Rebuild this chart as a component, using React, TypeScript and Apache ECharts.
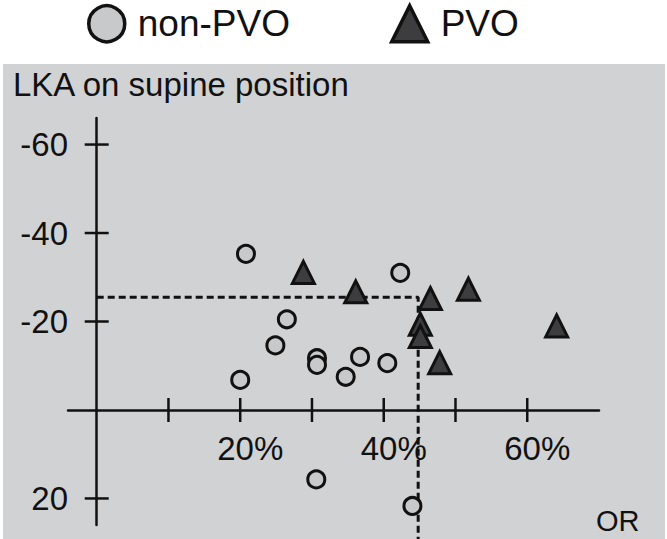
import React, { useEffect, useRef } from 'react';
import * as echarts from 'echarts';

// OR (%) and LKA on supine position (degrees)
const nonPvoOR = [20.8, 42.3, 26.5, 24.9, 30.7, 30.7, 36.7, 40.5, 34.7, 20.0, 30.6, 44.0];
const nonPvoLKA = [-35.3, -31.0, -20.5, -14.6, -11.7, -10.2, -12.0, -10.6, -7.5, -6.8, 15.7, 21.7];
const pvoOR = [28.8, 36.1, 46.5, 51.8, 64.1, 45.1, 45.1, 47.8];
const pvoLKA = [-31.1, -26.7, -25.2, -27.3, -19.0, -19.4, -16.6, -10.7];

const xTicks = [10, 20, 30, 40, 50, 60];
const xLabelValues = [20, 40, 60];
const yTicks = [-60, -40, -20, 20];

const cutoffOR = 44.8;
const cutoffLKA = -25.5;
const cutoffEnd = 30;

const FONT = '"Liberation Sans", Arial, Helvetica, sans-serif';
const INK = '#111111';

const tickSeries = (data: number[][], vertical: boolean) => ({
  type: 'custom',
  silent: true,
  z: 4,
  data,
  encode: { x: 0, y: 1 },
  renderItem: (_p: any, api: any) => {
    const p = api.coord([api.value(0), api.value(1)]);
    const shape = vertical
      ? { x1: p[0], y1: p[1] - 12, x2: p[0], y2: p[1] + 12 }
      : { x1: p[0] - 12, y1: p[1], x2: p[0] + 12, y2: p[1] };
    return { type: 'line', shape, style: { stroke: INK, lineWidth: 2.5 } };
  },
});

export default function App() {
  const ref = useRef<HTMLDivElement>(null);
  useEffect(() => {
    const chart = echarts.init(ref.current!, null, { renderer: 'svg' });
    const option: any = {
      animation: false,
      backgroundColor: '#ffffff',
      title: {
        text: 'LKA on supine position',
        left: 8,
        top: 63,
        textStyle: { fontSize: 33, fontWeight: 'normal', color: INK, fontFamily: FONT },
      },
      legend: {
        left: 87,
        top: 4,
        padding: 0,
        itemWidth: 36,
        itemHeight: 36,
        itemGap: 100,
        textStyle: { fontSize: 37, color: INK, fontFamily: FONT, padding: [0, 0, 0, 8] },
        data: [
          { name: 'non-PVO', icon: 'circle', itemStyle: { color: '#c8c9cb', borderColor: INK, borderWidth: 3.5 } },
          { name: 'PVO', icon: 'triangle', itemStyle: { color: '#3d3d3f', borderColor: INK, borderWidth: 3.5 } },
        ],
      },
      graphic: [
        {
          type: 'rect',
          z: -10,
          silent: true,
          shape: { x: 3, y: 64, width: 662, height: 475 },
          style: { fill: '#d1d2d4' },
        },
        {
          type: 'text',
          left: 596,
          top: 506,
          z: 5,
          style: { text: 'OR', fontSize: 29, fill: INK, fontFamily: FONT },
        },
      ],
      grid: { left: 68, right: 68, top: 118, bottom: 14, containLabel: false, outerBoundsMode: 'none' },
      xAxis: {
        type: 'value',
        min: -4,
        max: 70,
        axisLine: { onZero: true, lineStyle: { color: INK, width: 2.5 } },
        axisTick: { show: false },
        splitLine: { show: false },
        axisLabel: {
          customValues: xLabelValues,
          formatter: '{value}%',
          margin: -93,
          padding: [0, 0, 0, 20],
          fontSize: 33,
          color: INK,
          fontFamily: FONT,
        },
      },
      yAxis: {
        type: 'value',
        inverse: true,
        min: -66,
        max: 26,
        axisLine: { onZero: true, lineStyle: { color: INK, width: 2.5 } },
        axisTick: { show: false },
        splitLine: { show: false },
        axisLabel: {
          customValues: yTicks,
          margin: 0,
          fontSize: 33,
          color: INK,
          fontFamily: FONT,
        },
      },
      series: [
        {
          name: 'cutoff',
          type: 'line',
          silent: true,
          clip: false,
          symbol: 'none',
          z: 1,
          data: [
            [0, cutoffLKA],
            [cutoffOR, cutoffLKA],
            [cutoffOR, cutoffEnd],
          ],
          lineStyle: { color: INK, width: 3, type: [7, 4] },
        },
        tickSeries(xTicks.map((v) => [v, 0]), true),
        tickSeries(yTicks.map((v) => [0, v]), false),
        {
          name: 'non-PVO',
          type: 'scatter',
          symbol: 'circle',
          symbolSize: 17,
          z: 6,
          data: nonPvoOR.map((x, i) => [x, nonPvoLKA[i]]),
          itemStyle: { color: '#c8c9cb', borderColor: INK, borderWidth: 3, opacity: 1 },
        },
        {
          name: 'PVO',
          type: 'scatter',
          symbol: 'triangle',
          symbolSize: 22,
          z: 7,
          data: pvoOR.map((x, i) => [x, pvoLKA[i]]),
          itemStyle: { color: '#3d3d3f', borderColor: INK, borderWidth: 3, opacity: 1 },
        },
      ],
    };
    chart.setOption(option);
    return () => chart.dispose();
  }, []);
  return (
    <div
      ref={ref}
      style={{ position: 'absolute', left: 0, top: 0, width: 667, height: 539 }}
    />
  );
}
